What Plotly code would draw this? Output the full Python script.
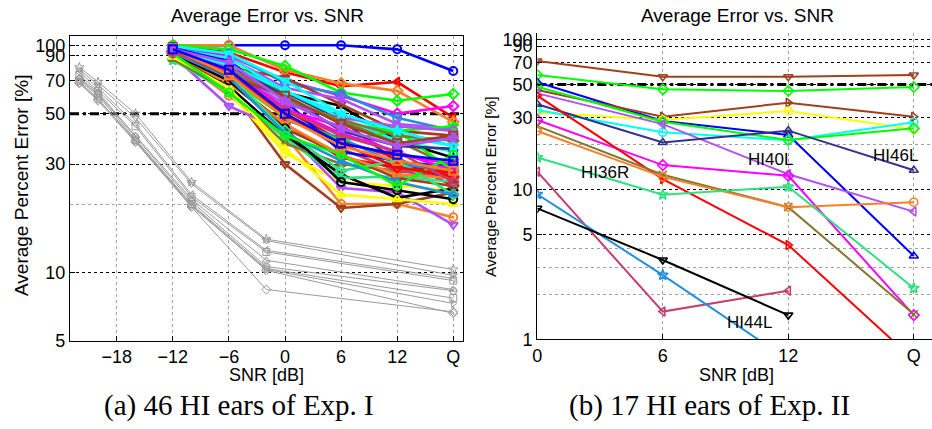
import math
import plotly.graph_objects as go

# ---------------- data: Exp. I (left panel) ----------------
snr_exp1 = [-12, -6, 0, 6, 12, 18]          # 18 is plotted as "Q"
snr_nh = [-22, -20, -16, -10, -2, 18]       # normal-hearing reference (grey)

nh_err = [
    [80, 69, 50, 25.0, 14.0, 10.3],
    [78, 67, 48, 24.5, 13.8, 9.7],
    [76, 65, 45, 22.0, 12.5, 9.4],
    [74, 63, 44, 21.5, 12.3, 9.2],
    [72, 62, 40, 21.0, 11.3, 8.4],
    [71, 61, 39.5, 20.5, 10.6, 8.3],
    [70, 60, 38.5, 20.0, 10.4, 7.7],
    [69, 58, 38, 19.5, 10.3, 7.3],
    [68, 57, 37.5, 19.4, 8.4, 6.7],
    [68.5, 58, 38, 19.8, 10.2, 6.6],
]
nh_symbols = ["star-open", "triangle-down-open", "triangle-left-open", "square-open",
              "triangle-up-open", "circle-open", "square-open", "triangle-right-open",
              "diamond-open", "diamond-open"]

exp1_err = [
    [100, 100, 100, 100, 96, 77],
    [100, 93, 76, 66, 69, 48],
    [100, 100, 78, 68, 63, 46],
    [100, 96, 81, 62, 57, 61],
    [97, 90, 70, 60, 50, 54],
    [98, 92, 68, 61, 48, 42],
    [93, 68, 62, 54, 38, 32],
    [95, 80, 72, 55, 42, 40],
    [96, 88, 65, 58, 45, 43],
    [98, 84, 62, 47, 30.5, 29.5],
    [99, 92, 70, 50, 40, 36],
    [95, 85, 60, 45, 42, 44],
    [96, 80, 58, 46, 38, 29],
    [94, 78, 52, 38, 32, 24],
    [90, 60, 40, 20, 20, 17.5],
    [92, 65, 30, 19.2, 20, 22.5],
    [88, 62, 33.5, 25, 24, 23],
    [90, 54, 42, 23.5, 22.5, 16.2],
    [88, 66, 40, 27, 21.3, 23.4],
    [86, 62, 39, 26, 26.5, 25],
    [87, 63, 37, 30, 28, 27],
    [95, 75, 50, 35, 28, 26],
    [97, 86, 52, 44, 33, 30],
    [96, 88, 63, 48, 38, 34],
    [97, 85, 57, 34, 31, 25.5],
    [95, 82, 47, 39, 30, 28],
    [94, 72, 48, 38, 42, 28],
    [91, 70, 45, 32, 29, 27.5],
    [97, 82, 60, 42, 36, 35],
    [92, 70, 43, 33, 26, 24],
    [93, 68, 45, 33, 27, 26],
    [89, 65, 35, 22, 21, 20],
    [95, 80, 55, 48, 44, 42],
    [96, 78, 53, 41, 34, 28],
    [92, 70, 43, 25, 23, 21],
    [94, 75, 42, 28, 31, 22],
    [93, 72, 41, 31, 25, 22],
    [95, 78, 58, 47, 40, 38],
    [95, 82, 63, 50, 42, 36],
    [92, 62, 40, 33, 24, 33],
    [94, 77, 49, 37, 29, 26.5],
    [95, 73, 60, 45, 37, 40],
    [93, 76, 52, 40, 34, 25],
    [97, 74, 48, 36, 31, 28],
    [96, 84, 57, 43, 36, 39],
    [96, 78, 50, 37, 33, 31],
]

C = {
    "blue": "#0000FF", "red": "#FF0000", "green": "#00FF00", "orange": "#F98026",
    "magenta": "#FF00FF", "cyan": "#00FFFF", "black": "#000000", "brown": "#A0401E",
    "purple": "#B050FF", "navy": "#333388", "yellow": "#FFFF00", "olive": "#807830",
    "spring": "#30E080", "sky": "#2090E0", "rose": "#C83C6E", "grey": "#9A9A9A",
}

exp1_colors = ["blue", "red", "orange", "green", "magenta", "sky", "black", "brown",
               "purple", "navy", "cyan", "green", "olive", "red", "orange", "brown",
               "yellow", "purple", "black", "spring", "olive", "rose", "magenta", "cyan",
               "blue", "sky", "green", "red", "navy", "brown", "orange", "yellow",
               "purple", "magenta", "black", "spring", "sky", "olive", "cyan", "green",
               "red", "brown", "rose", "orange", "purple", "blue"]
exp1_symbols = ["circle-open", "triangle-left-open", "diamond-open", "diamond-open",
                "diamond-open", "circle-open", "triangle-up-open", "triangle-down-open",
                "triangle-left-open", "square-open", "triangle-down-open", "star-open",
                "square-open", "star-open", "circle-open", "triangle-down-open",
                "circle-open", "triangle-down-open", "triangle-up-open", "star-open",
                "triangle-up-open", "diamond-open", "square-open", "circle-open",
                "triangle-up-open", "circle-open", "diamond-open", "cross-thin-open",
                "triangle-up-open", "diamond-open", "triangle-up-open", "triangle-up-open",
                "circle-open", "triangle-up-open", "circle-open", "diamond-open",
                "triangle-up-open", "diamond-open", "star-open", "circle-open",
                "diamond-open", "square-open", "diamond-open", "square-open",
                "star-open", "square-open"]

# ---------------- data: Exp. II (right panel) ----------------
snr_exp2 = [0, 6, 12, 18]
exp2_err = [
    [71.7, 56.3, 56.3, 57.8],
    [57.8, 46.4, 45.2, 48.1],
    [51.7, 28.5, 23.0, 3.59],
    [45.9, 30.5, 37.8, 30.5],
    [32.6, 29.0, 33.3, 25.1],
    [33.8, 24.0, 21.2, 28.0],
    [48.3, 28.2, 21.3, 25.5],
    [43.6, 27.2, 12.6, 7.1],
    [36.9, 20.5, 24.6, 13.4],
    [29.0, 14.5, 12.3, 1.45],
    [42.1, 11.7, 4.25, 0.73],
    [26.4, 12.5, 7.6, 1.47],
    [24.5, 12.1, 7.6, 8.2],
    [16.3, 9.2, 10.4, 2.19],
    [13.1, 1.53, 2.11, None],
    [9.26, 2.68, 0.73, None],
    [7.47, 3.38, 1.45, None],
]
exp2_colors = ["brown", "green", "blue", "brown", "yellow", "cyan", "green", "purple",
               "navy", "magenta", "red", "olive", "orange", "spring", "rose", "sky", "black"]
exp2_symbols = ["triangle-down-open", "diamond-open", "triangle-up-open", "triangle-right-open",
                "circle-open", "circle-open", "diamond-open", "triangle-left-open",
                "triangle-up-open", "diamond-open", "triangle-right-open", "x-thin-open",
                "circle-open", "star-open", "triangle-left-open", "star-open",
                "triangle-down-open"]
exp2_labels = ["HI36R", "HI40L", "HI46L", "HI44L"]

tick_snr = [-18, -12, -6, 0, 6, 12, 18]
tick_snr_text = ["\u221218", "\u221212", "\u22126", "0", "6", "12", "Q"]
threshold = 50

# ---------------- figure ----------------
W, H = 932, 429
SANS = "Liberation Sans, Arial, Helvetica, sans-serif"
SERIF = "Liberation Serif, Times New Roman, serif"

fig = go.Figure()

# 50 % reference lines
fig.add_trace(go.Scatter(x=[-23, 19.04], y=[threshold, threshold], mode="lines",
                         line=dict(color="black", width=3, dash="9px,4px,3px,4px"),
                         xaxis="x", yaxis="y", hoverinfo="skip", showlegend=False))
fig.add_trace(go.Scatter(x=[0, 18.87], y=[threshold, threshold], mode="lines",
                         line=dict(color="black", width=3, dash="9px,4px,3px,4px"),
                         xaxis="x2", yaxis="y2", hoverinfo="skip", showlegend=False))

for vals, sym in zip(nh_err, nh_symbols):
    fig.add_trace(go.Scatter(x=snr_nh, y=vals, mode="lines+markers",
                             line=dict(color=C["grey"], width=1),
                             marker=dict(symbol=sym, size=7, color=C["grey"],
                                         line=dict(width=1, color=C["grey"])),
                             xaxis="x", yaxis="y", showlegend=False))

for vals, col, sym in zip(exp1_err, exp1_colors, exp1_symbols):
    fig.add_trace(go.Scatter(x=snr_exp1, y=vals, mode="lines+markers",
                             line=dict(color=C[col], width=2.6),
                             marker=dict(symbol=sym, size=8, color=C[col],
                                         line=dict(width=2, color=C[col])),
                             xaxis="x", yaxis="y", showlegend=False))

for vals, col, sym in zip(exp2_err, exp2_colors, exp2_symbols):
    fig.add_trace(go.Scatter(x=snr_exp2, y=vals, mode="lines+markers",
                             line=dict(color=C[col], width=2),
                             marker=dict(symbol=sym, size=8, color=C[col],
                                         line=dict(width=1.6, color=C[col])),
                             xaxis="x2", yaxis="y2", showlegend=False,
                             connectgaps=False))

def px_x(px):
    return px / W

def px_y(py):
    return 1 - py / H

axis_common = dict(showline=True, linecolor="black", linewidth=1.3, ticks="inside",
                   ticklen=5, tickcolor="black", zeroline=False, automargin=False,
                   tickfont=dict(family=SANS, size=18, color="black"))

fig.update_layout(
    width=W, height=H, margin=dict(l=0, r=0, t=0, b=0, pad=0, autoexpand=False),
    paper_bgcolor="white", plot_bgcolor="white", showlegend=False,
    xaxis=dict(domain=[px_x(70), px_x(463)], range=[-23, 19.04], anchor="y",
               tickvals=tick_snr, ticktext=tick_snr_text, mirror=True,
               showgrid=True, gridcolor="#A0A0A0", griddash="dot", gridwidth=1,
               **axis_common),
    yaxis=dict(domain=[px_y(340.7), px_y(36)], type="log",
               range=[math.log10(5), 2.041], anchor="x",
               tickvals=[5, 10, 30, 50, 70, 90, 100], mirror=True,
               showgrid=True, gridcolor="black", griddash="dot", gridwidth=1,
               minor=dict(tickvals=[20], showgrid=True, gridcolor="#A0A0A0",
                          griddash="dot", gridwidth=1, ticks=""),
               **axis_common),
    xaxis2=dict(domain=[px_x(537.3), 1.0], range=[0, 18.87], anchor="y2",
                tickvals=[0, 6, 12, 18], ticktext=["0", "6", "12", "Q"],
                showgrid=True, gridcolor="#A0A0A0", griddash="dot", gridwidth=1,
                **axis_common),
    yaxis2=dict(domain=[px_y(339.3), px_y(32.7)], type="log", range=[0, 2.044],
                anchor="x2", tickvals=[1, 5, 10, 30, 50, 70, 90, 100],
                showgrid=True, gridcolor="black", griddash="dot", gridwidth=1,
                minor=dict(tickvals=[2, 3, 4, 20], showgrid=True, gridcolor="#A0A0A0",
                           griddash="dot", gridwidth=1, ticks=""),
                **axis_common),
)

ann = []
def text(x, y, s, size, family=SANS, angle=0):
    ann.append(dict(x=px_x(x), y=px_y(y), xref="paper", yref="paper", text=s,
                    showarrow=False, xanchor="center", yanchor="middle",
                    textangle=angle, font=dict(family=family, size=size, color="black")))

text(267.5, 15, "Average Error vs. SNR", 19)
text(737, 15, "Average Error vs. SNR", 19)
text(266, 375, "SNR [dB]", 18)
text(736, 375, "SNR [dB]", 18)
text(21, 186, "Average Percent Error [%]", 19, angle=-90)
text(490, 186, "Average Percent Error [%]", 15.5, angle=-90)
text(239, 405, "(a) 46 HI ears of Exp. I", 29, family=SERIF)
text(709, 405, "(b) 17 HI ears of Exp. II", 29, family=SERIF)
for lab, (lx, ly) in zip(exp2_labels, [(604.5, 172.3), (770, 159), (895.5, 155), (749.3, 322.4)]):
    text(lx, ly, lab, 17)

fig.update_layout(annotations=ann)
fig.write_html("out.html")
